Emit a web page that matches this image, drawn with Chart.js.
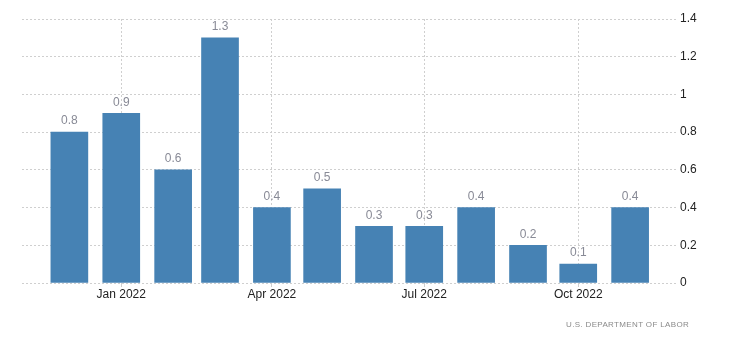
<!DOCTYPE html>
<html>
<head>
<meta charset="utf-8">
<script src="https://cdn.jsdelivr.net/npm/chart.js@4/dist/chart.umd.min.js"></script>
<style>
html,body{margin:0;padding:0;background:#fff;}
#wrap{position:relative;width:730px;height:351px;}
#src{position:absolute;left:566px;top:320px;font-family:"Liberation Sans",Arial,sans-serif;font-size:8px;letter-spacing:0.35px;color:#8a8a8a;white-space:nowrap;}
</style>
</head>
<body>
<div id="wrap">
<canvas id="c" width="730" height="351"></canvas>
<div id="src">U.S. DEPARTMENT OF LABOR</div>
</div>
<script>
const months = ["2021-12","2022-01","2022-02","2022-03","2022-04","2022-05","2022-06","2022-07","2022-08","2022-09","2022-10","2022-11"];
const values = [0.8,0.9,0.6,1.3,0.4,0.5,0.3,0.3,0.4,0.2,0.1,0.4];
const tickMonths = ["2022-01","2022-04","2022-07","2022-10"];
const tickLabels = ["Jan 2022","Apr 2022","Jul 2022","Oct 2022"];
const yTicks = [0,0.2,0.4,0.6,0.8,1,1.2,1.4];

const base = Date.UTC(2021,11,1);
function dayOf(m){const [y,mo]=m.split("-").map(Number);return (Date.UTC(y,mo-1,1)-base)/86400000;}
const pts = months.map((m,i)=>({x:dayOf(m),y:values[i]}));
const tickDays = tickMonths.map(dayOf);

const labelPlugin = {
  id:'vlabels',
  afterDatasetsDraw(chart){
    const ctx=chart.ctx; const meta=chart.getDatasetMeta(0);
    ctx.save();
    ctx.font='12px "Liberation Sans", Arial, sans-serif';
    ctx.fillStyle='#888a96';
    ctx.textAlign='center'; ctx.textBaseline='bottom';
    meta.data.forEach((el,i)=>{ ctx.fillText(String(values[i]), el.x, el.y-5); });
    ctx.restore();
  }
};

new Chart(document.getElementById('c'),{
  type:'bar',
  data:{datasets:[{data:pts,backgroundColor:'#4682B4',barThickness:37}]},
  options:{
    responsive:false,animation:false,
    layout:{padding:{left:22,top:19,right:0,bottom:0}},
    plugins:{legend:{display:false},tooltip:{enabled:false}},
    scales:{
      x:{type:'linear',min:-28.3,max:363,offset:false,
        afterBuildTicks(s){s.ticks=tickDays.map(v=>({value:v}));},
        afterFit(s){s.height=68;},
        ticks:{callback(v){const i=tickDays.indexOf(v);return i>=0?tickLabels[i]:'';},
          color:'#222',font:{family:'"Liberation Sans", Arial, sans-serif',size:12},maxRotation:0,autoSkip:false,padding:0},
        grid:{color:'#cfcfcf',offset:false,tickLength:4,drawTicks:true},
        border:{display:false,dash:[2,2]}
      },
      y:{position:'right',min:0,max:1.4,
        afterBuildTicks(s){s.ticks=yTicks.map(v=>({value:v}));},
        afterFit(s){s.width=53;},
        ticks:{callback(v){return String(v);},color:'#222',font:{family:'"Liberation Sans", Arial, sans-serif',size:12},padding:3},
        grid:{color:'#cfcfcf',drawTicks:false},
        border:{display:false,dash:[2,2]}
      }
    }
  },
  plugins:[labelPlugin]
});
</script>
</body>
</html>
